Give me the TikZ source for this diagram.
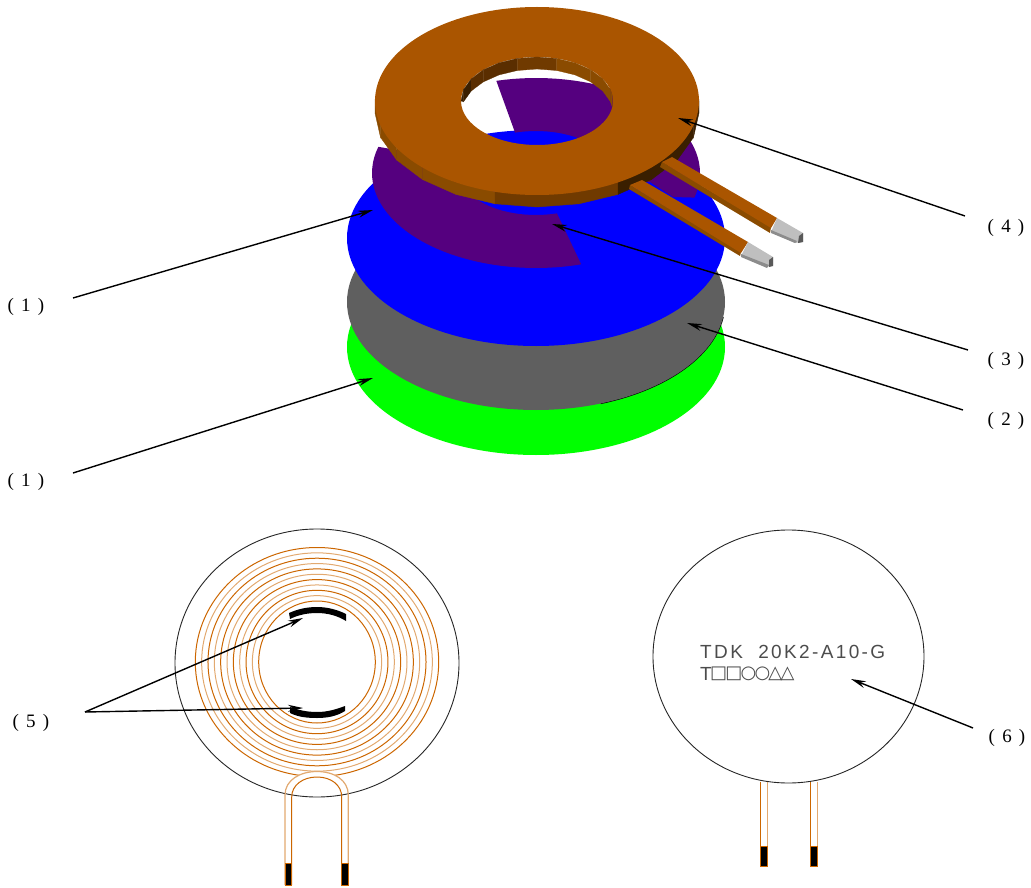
\documentclass[tikz,border=0pt]{standalone}
\usepackage{fontspec}
\setmainfont{Liberation Serif}
\newfontfamily\cadfont[LetterSpace=12.5]{Liberation Sans}
\newfontfamily\symfont[LetterSpace=-10]{DejaVu Sans}
\usetikzlibrary{arrows.meta}
\definecolor{cbrown}{HTML}{AA5500}
\definecolor{cpurple}{HTML}{55007F}
\definecolor{cgray}{HTML}{5F5F5F}
\definecolor{cwire}{HTML}{CC6600}
\definecolor{clight}{HTML}{E2A970}
\definecolor{cd1}{HTML}{3A1F00}
\definecolor{cd2}{HTML}{5A2E00}
\definecolor{cd3}{HTML}{703A00}
\definecolor{cd4}{HTML}{8A4B00}
\newcommand{\numtxt}[1]{(\hspace{0.38em}#1\hspace{0.38em})}
\tikzset{
  callout/.style={draw=black,line width=1.4pt,-{Stealth[length=15pt,width=7pt,inset=5pt]}},
  numlabel/.style={font=\fontsize{19}{21}\selectfont,inner sep=0pt},
  coilline/.style={line width=1pt},
  outline/.style={draw=black!85,line width=0.9pt},
  tipblock/.style={fill=black,draw=cwire,line width=0.9pt},
  leadface/.style={fill=cbrown,draw=none},
  leadside/.style={fill=cd4,draw=none},
  silver/.style={fill=black!25,draw=none},
  silverside/.style={fill=black!45,draw=none},
  silverend/.style={fill=black!65,draw=none}
}
\begin{document}
\begin{tikzpicture}[x=1pt,y=-1pt]
\path[use as bounding box] (0,0) rectangle (1031,888);
% stacked discs
\fill[green] (536,347) ellipse [x radius=189,y radius=108];
\draw[black,line width=1.2pt] plot[domain=8:70,samples=30] ({536+189*cos(\x)},{302+108*sin(\x)});
\fill[cgray] (536,302) ellipse [x radius=189,y radius=108];
\fill[blue] (536,238) ellipse [x radius=189,y radius=108];
% purple sheet
\fill[cpurple] plot[domain=74:196,samples=40] ({536+164*cos(\x)},{173+95*sin(\x)})
  -- plot[domain=196:74,samples=30] ({536+76*cos(\x)},{173+42*sin(\x)}) -- cycle;
\fill[cpurple] plot[domain=256:375,samples=40] ({536+164*cos(\x)},{173+95*sin(\x)})
  -- (673,197) -- (650,182)
  -- plot[domain=375:254,samples=30] ({536+76*cos(\x)},{173+42*sin(\x)}) -- cycle;
% ring outer side facets
\foreach \a/\b/\c in {165/180/cd4,150/165/cd4,135/150/cd4,120/135/cd4,105/120/cd4,90/105/cd3,75/90/cd3,60/75/cd3,45/60/cd1,30/45/cd1,15/30/cd1,0/15/cd1}
  {\filldraw[fill=\c,draw=\c,line width=0.4pt] ({537+162*cos(\a)},{101+94*sin(\a)}) -- ({537+162*cos(\b)},{101+94*sin(\b)})
    -- ({537+162*cos(\b)},{113+94*sin(\b)}) -- ({537+162*cos(\a)},{113+94*sin(\a)}) -- cycle;}
% leads
\fill[leadside] (662,162) -- (771,227) -- (770,233) -- (660,167) -- cycle;
\fill[leadface] (672,157) -- (777,218) -- (771,228) -- (662,162) -- cycle;
\fill[silver] (777,218) -- (803,233) -- (803,242) -- (795,243) -- (771,232) -- cycle;
\fill[silverside] (771,230) -- (797,241) -- (795,243) -- (771,233) -- cycle;
\fill[silverend] (799,236) -- (803,233) -- (803,242) -- (798,243) -- cycle;
\fill[leadside] (630,185) -- (741,252) -- (740,256) -- (629,189) -- cycle;
\fill[leadface] (642,180) -- (748,242) -- (741,253) -- (630,185) -- cycle;
\fill[silver] (748,242) -- (773,257) -- (773,265) -- (767,267) -- (741,256) -- cycle;
\fill[silverside] (741,254) -- (769,265) -- (767,268) -- (741,257) -- cycle;
\fill[silverend] (769,260) -- (773,257) -- (773,266) -- (769,267) -- cycle;
% ring top face with hole
\fill[cbrown,even odd rule] (537,101) ellipse [x radius=162,y radius=94] (537,101) ellipse [x radius=76,y radius=44];
% hole wall facets
\foreach \a/\b/\c in {180/195/cd1,195/210/cd1,210/225/cd2,225/240/cd2,240/255/cd2,255/270/cd3,270/285/cd3,285/300/cd4,300/315/cd4,315/330/cd4,330/345/cd4,345/352/cd4}
  {\filldraw[fill=\c,draw=\c,line width=0.3pt] ({537+76*cos(\a)},{101+44*sin(\a)}) -- ({537+76*cos(\b)},{101+44*sin(\b)})
    -- ({537+76*cos(\b)},{min(113+44*sin(\b),101+44*sin(360-\b))}) -- ({537+76*cos(\a)},{min(113+44*sin(\a),101+44*sin(360-\a))}) -- cycle;}
% left coil
\foreach \i/\c in {0/cwire,1/clight,2/cwire,3/clight,4/cwire,5/clight,6/cwire,7/clight,8/cwire,9/clight,10/cwire}
  {\draw[coilline,\c] (317,662) ellipse [x radius={58.3+6.34*\i},y radius={61+5.35*\i}];}
\fill[white] (285,890) -- (285,795) .. controls (285,780) and (300,771.5) .. (317,771.5) .. controls (334,771.5) and (348.3,780) .. (348.3,795) -- (348.3,890) -- cycle;
\draw[outline] (317,663) ellipse [x radius=142,y radius=134];
\draw[coilline,clight,line width=1.2pt] (285,885) -- (285,795) .. controls (285,780) and (300,771.5) .. (317,771.5) .. controls (334,771.5) and (348.3,780) .. (348.3,795) -- (348.3,885);
\draw[coilline,cwire] (291.7,885) -- (291.7,797) .. controls (291.7,785) and (303,777) .. (317,777) .. controls (331,777) and (341.7,785) .. (341.7,797) -- (341.7,885);
\draw[tipblock] (285,863) rectangle (291.7,885);
\draw[tipblock] (341.7,863) rectangle (348.3,885);
% black arcs
\fill[black] (289,613) .. controls (298,609) and (307,607) .. (317,607) .. controls (328,607) and (338,610) .. (346,614) -- (346,621) .. controls (338,616) and (328,613) .. (317,613) .. controls (307,613) and (298,615) .. (290,619) -- cycle;
\fill[black] (290,707) .. controls (298,710) and (307,712) .. (317,712) .. controls (328,712) and (337,709) .. (345,706) -- (345,711) .. controls (337,716) and (328,718) .. (317,718) .. controls (307,718) and (298,717) .. (290,713) -- cycle;
% right disc
\draw[outline] (788.5,656.5) ellipse [x radius=135.5,y radius=126.5];
\draw[clight,line width=1.2pt] (767.3,782) -- (767.3,866);
\draw[clight,line width=1.2pt] (817.3,782) -- (817.3,866);
\draw[cwire,line width=1pt] (760.7,782) -- (760.7,846) -- (767.3,846);
\draw[cwire,line width=1pt] (810.7,782) -- (810.7,846) -- (817.3,846);
\draw[tipblock] (760.7,846) rectangle (767.3,866);
\draw[tipblock] (810.7,846) rectangle (817.3,866);
\node[anchor=west,inner sep=0pt,text=black!70,font=\fontsize{19}{20}\cadfont] (marka) at (700,652) {TDK\ \ 20K2-A10-G};
\node[anchor=west,inner sep=0pt,text=black!70,font=\fontsize{19}{20}\cadfont] (markb) at (700,674) {T};
\node[anchor=west,inner sep=0pt,text=black!70,font=\fontsize{18}{20}\symfont] (markc) at (710,674) {□□○○△△};
% labels
\node[numlabel] (l1a) at (26,307) {\numtxt{1}};
\node[numlabel] (l1b) at (26,482) {\numtxt{1}};
\node[numlabel] (l4) at (1006,228) {\numtxt{4}};
\node[numlabel] (l3) at (1006,361) {\numtxt{3}};
\node[numlabel] (l2) at (1006,421) {\numtxt{2}};
\node[numlabel] (l5) at (31,723) {\numtxt{5}};
\node[numlabel] (l6) at (1007,738) {\numtxt{6}};
% callout ends
\coordinate (s1a) at (73,298); \coordinate (e1a) at (373,210);
\coordinate (s1b) at (73,473); \coordinate (e1b) at (373,378);
\coordinate (s4) at (965,216); \coordinate (e4) at (678,118);
\coordinate (s3) at (968,350); \coordinate (e3) at (552,224);
\coordinate (s2) at (963,410); \coordinate (e2) at (687,323);
\coordinate (s5) at (85,712); \coordinate (e5a) at (303,618); \coordinate (e5b) at (303,708);
\coordinate (s6) at (973,728); \coordinate (e6) at (851,679);
\draw[callout] (s1a) -- (e1a);
\draw[callout] (s1b) -- (e1b);
\draw[callout] (s4) -- (e4);
\draw[callout] (s3) -- (e3);
\draw[callout] (s2) -- (e2);
\draw[callout] (s5) -- (e5a);
\draw[callout] (s5) -- (e5b);
\draw[callout] (s6) -- (e6);
\end{tikzpicture}
\end{document}
